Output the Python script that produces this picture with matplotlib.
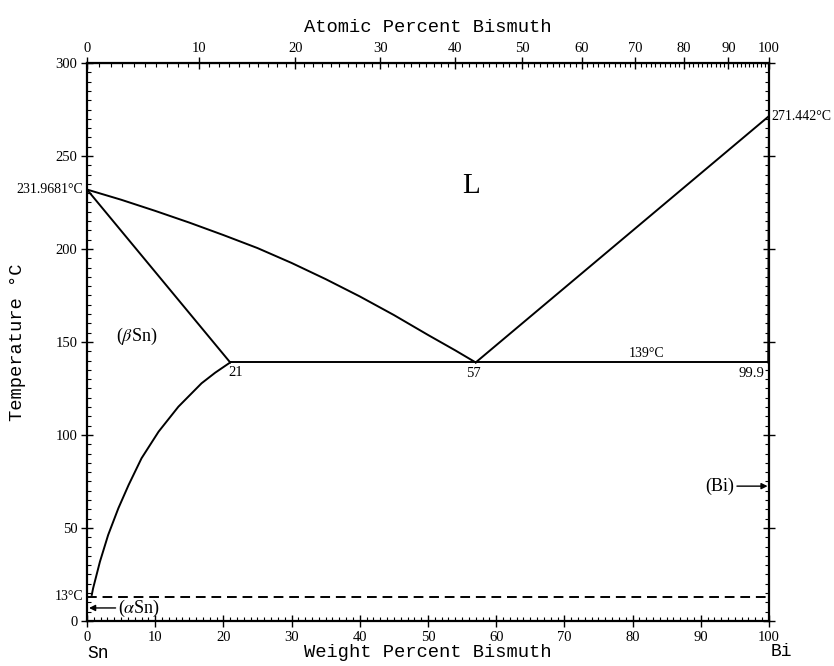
import matplotlib as mpl
mpl.use('Agg')
import matplotlib.pyplot as plt
import numpy as np

# weight percent Bi vs temperature (deg C)
liq_sn_x = [0, 5, 10, 15, 20, 25, 30, 35, 40, 45, 50, 54, 57]
liq_sn_y = [231.9681, 226.5, 220.5, 214.2, 207.5, 200.5, 192.5, 183.8, 174.5, 164.5,
            153.8, 145.5, 139]
sol_sn_x = [0, 21]
sol_sn_y = [231.9681, 139]
solvus_x = [0.7, 0.9, 1.9, 3.1, 4.6, 6.1, 8.0, 10.5, 13.4, 16.8, 18.8, 21]
solvus_y = [14, 17.6, 31.9, 46.2, 60.6, 73.1, 87.5, 101.8, 115.2, 127.8, 133.5, 139]
eut_x = [21, 99.9]
eut_y = [139, 139]
liq_bi_x = [57, 100]
liq_bi_y = [139, 271.442]
sol_bi_x = [99.9, 100]
sol_bi_y = [139, 271.442]
trans_x = [0, 100]
trans_y = [13, 13]

W_SN = 118.71
W_BI = 208.98

mono = 'Liberation Mono'
serif = 'Liberation Serif'
plt.rcParams['mathtext.fontset'] = 'stix'


def wt_to_at(w):
    w = np.asarray(w, dtype=float)
    nb = w / W_BI
    ns = (100 - w) / W_SN
    return 100 * nb / (nb + ns)


def at_to_wt(a):
    a = np.asarray(a, dtype=float)
    mb = a * W_BI
    ms = (100 - a) * W_SN
    return 100 * mb / (mb + ms)


fig = plt.figure(figsize=(8.34, 6.66), dpi=100)
ax = fig.add_axes([0.1043, 0.0676, 0.8177, 0.8378])

lw = 1.4
ax.plot(liq_sn_x, liq_sn_y, color='black', lw=lw)
ax.plot(sol_sn_x, sol_sn_y, color='black', lw=lw)
ax.plot(solvus_x, solvus_y, color='black', lw=lw)
ax.plot(eut_x, eut_y, color='black', lw=lw)
ax.plot(liq_bi_x, liq_bi_y, color='black', lw=lw)
ax.plot(sol_bi_x, sol_bi_y, color='black', lw=lw)
ax.plot(trans_x, trans_y, color='black', lw=1.4, dashes=(5, 3))

ax.set_xlim(0, 100)
ax.set_ylim(0, 300)

for s in ax.spines.values():
    s.set_linewidth(1.6)

ax.set_xticks(np.arange(0, 101, 10))
ax.set_xticks(np.arange(0, 101, 1), minor=True)
ax.set_yticks(np.arange(0, 301, 50))
ax.set_yticks(np.arange(0, 301, 5), minor=True)
ax.tick_params(which='major', direction='inout', length=8, width=1.0,
               right=True, top=False, labelsize=10.5, pad=3)
ax.tick_params(which='minor', direction='in', length=3, width=0.8,
               right=True, top=False)
for lab in ax.get_xticklabels() + ax.get_yticklabels():
    lab.set_family(serif)

# atomic percent on top
sec = ax.secondary_xaxis('top', functions=(wt_to_at, at_to_wt))
sec.set_xticks(np.arange(0, 101, 10))
sec.set_xticks(np.arange(0, 101, 1), minor=True)
sec.tick_params(which='major', direction='inout', length=8, width=1.0,
                labelsize=10.5, pad=2)
sec.tick_params(which='minor', direction='in', length=3, width=0.8)
for lab in sec.get_xticklabels():
    lab.set_family(serif)
sec.set_xlabel('Atomic Percent Bismuth', family=mono, fontsize=13.5, labelpad=7)

ax.set_xlabel('Weight Percent Bismuth', family=mono, fontsize=13.5, labelpad=0)
ax.set_ylabel('Temperature \u00b0C', family=mono, fontsize=13.5)
ax.yaxis.set_label_coords(-0.089, 0.5)

# labels on the diagram
ax.text(56.3, 234, 'L', family=serif, fontsize=21, ha='center', va='center')
ax.text(7.3, 153, '($\\beta$Sn)', family=serif, fontsize=13, ha='center', va='center')
ax.text(20.8, 137, '21', family=serif, fontsize=10.5, ha='left', va='top')
ax.text(56.6, 136.5, '57', family=serif, fontsize=10.5, ha='center', va='top')
ax.text(82, 140.5, '139\u00b0C', family=serif, fontsize=10, ha='center', va='bottom')
ax.text(99.4, 136.5, '99.9', family=serif, fontsize=10.5, ha='right', va='top')

ax.text(-0.6, 231.9681, '231.9681\u00b0C', family=serif, fontsize=10,
        ha='right', va='center')
ax.text(100.4, 271.442, '271.442\u00b0C', family=serif, fontsize=10,
        ha='left', va='center')
ax.text(-0.6, 13, '13\u00b0C', family=serif, fontsize=10, ha='right', va='center')

ax.annotate('($\\alpha$Sn)', xy=(0.3, 7), xytext=(4.6, 7), family=serif, fontsize=13,
            ha='left', va='center',
            arrowprops=dict(arrowstyle='-|>', color='black', lw=1.0,
                            shrinkA=0, shrinkB=0, mutation_scale=9))
ax.annotate('(Bi)', xy=(99.8, 72.5), xytext=(94.9, 72.5), family=serif, fontsize=13,
            ha='right', va='center',
            arrowprops=dict(arrowstyle='-|>', color='black', lw=1.0,
                            shrinkA=0, shrinkB=0, mutation_scale=9))

ax.text(0, -13, 'Sn', family=mono, fontsize=13, ha='left', va='top', clip_on=False)
ax.text(100.3, -12, 'Bi', family=mono, fontsize=13, ha='left', va='top', clip_on=False)

fig.savefig('out.png', dpi=100)
